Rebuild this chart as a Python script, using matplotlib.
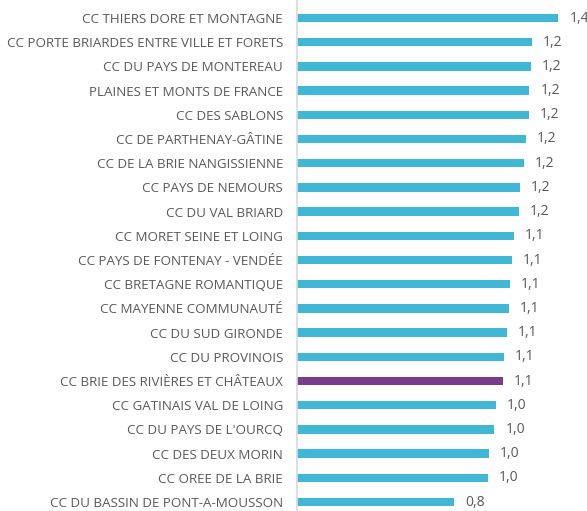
import matplotlib
matplotlib.use("Agg")
import matplotlib.pyplot as plt

labels = [
    "CC THIERS DORE ET MONTAGNE",
    "CC PORTE BRIARDES ENTRE VILLE ET FORETS",
    "CC DU PAYS DE MONTEREAU",
    "PLAINES ET MONTS DE FRANCE",
    "CC DES SABLONS",
    "CC DE PARTHENAY-GÂTINE",
    "CC DE LA BRIE NANGISSIENNE",
    "CC PAYS DE NEMOURS",
    "CC DU VAL BRIARD",
    "CC MORET SEINE ET LOING",
    "CC PAYS DE FONTENAY - VENDÉE",
    "CC BRETAGNE ROMANTIQUE",
    "CC MAYENNE COMMUNAUTÉ",
    "CC DU SUD GIRONDE",
    "CC DU PROVINOIS",
    "CC BRIE DES RIVIÈRES ET CHÂTEAUX",
    "CC GATINAIS VAL DE LOING",
    "CC DU PAYS DE L'OURCQ",
    "CC DES DEUX MORIN",
    "CC OREE DE LA BRIE",
    "CC DU BASSIN DE PONT-A-MOUSSON",
]
values = [1.369, 1.229, 1.225, 1.217, 1.215, 1.199, 1.186, 1.168, 1.160,
          1.136, 1.126, 1.113, 1.110, 1.097, 1.084, 1.079, 1.042, 1.034,
          1.003, 1.000, 0.822]
highlight = "CC BRIE DES RIVIÈRES ET CHÂTEAUX"

W, H = 587, 511
fig = plt.figure(figsize=(W / 100, H / 100), dpi=100)
ax = fig.add_axes([297 / W, 0, 1 - 297 / W, 1])

colors = ["#7B3A8B" if l == highlight else "#40B7D5" for l in labels]
ypos = list(range(len(labels)))
ax.barh(ypos, values, height=0.34, color=colors)

for y, v in zip(ypos, values):
    ax.text(v + 0.057, y, f"{v:.1f}".replace(".", ","), va="center", ha="left",
            fontsize=10, color="#595959", family="Open Sans")

ax.set_yticks(ypos)
ax.set_yticklabels(labels, fontsize=9.6, color="#595959", family="Open Sans")
ax.tick_params(axis="y", length=0, pad=10)
ax.set_xticks([])
ax.set_xlim(0, 290 / 191)
ax.set_ylim(20 + (511 - 502) / 24.2, -18 / 24.2)
for s in ["top", "right", "bottom"]:
    ax.spines[s].set_visible(False)
ax.spines["left"].set_color("#D9D9D9")
ax.spines["left"].set_linewidth(1.2)

fig.savefig("out.png", dpi=100)
